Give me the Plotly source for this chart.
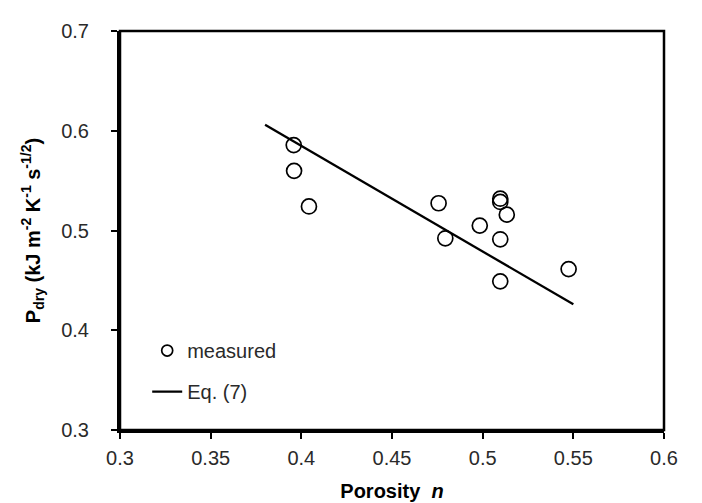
import plotly.graph_objects as go

# Measured data
porosity = [0.3958, 0.3960, 0.4042, 0.4757, 0.4794, 0.4984, 0.5097, 0.5097, 0.5133, 0.5097, 0.5097, 0.5474]
p_dry = [0.5856, 0.5598, 0.5241, 0.5273, 0.4922, 0.5049, 0.5319, 0.5286, 0.5159, 0.4912, 0.4490, 0.4613]

# Eq. (7) line
eq_n = [0.38, 0.55]
eq_p = [0.606, 0.426]

x_ticks = [0.3, 0.35, 0.4, 0.45, 0.5, 0.55, 0.6]
x_tick_labels = ["0.3", "0.35", "0.4", "0.45", "0.5", "0.55", "0.6"]
y_ticks = [0.3, 0.4, 0.5, 0.6, 0.7]
y_tick_labels = ["0.3", "0.4", "0.5", "0.6", "0.7"]

FONT = "Arial, Liberation Sans, sans-serif"
TXT = "#2a2a2a"

fig = go.Figure()
fig.add_trace(go.Scatter(
    x=porosity, y=p_dry, mode="markers", name="measured", showlegend=False,
    marker=dict(symbol="circle-open", size=15, color="black", line=dict(width=1.7, color="black")),
))
# legend entry for measured (smaller symbol, as in the reference)
fig.add_trace(go.Scatter(
    x=[None], y=[None], mode="markers", name="measured", legendgroup="a",
    marker=dict(symbol="circle-open", size=11, color="black", line=dict(width=1.7, color="black")),
))
fig.add_trace(go.Scatter(
    x=eq_n, y=eq_p, mode="lines", name="Eq. (7)", legendgroup="b",
    line=dict(color="black", width=2.3),
))

# frame (top/right)
fig.add_shape(type="rect", xref="paper", yref="paper", x0=0, y0=0, x1=1, y1=1,
              line=dict(color="black", width=2.5), layer="above")

fig.update_layout(
    width=702, height=503,
    margin=dict(l=112, r=46, t=17, b=76),
    paper_bgcolor="white", plot_bgcolor="white",
    font=dict(family=FONT, size=20, color=TXT),
    showlegend=True,
    legend=dict(x=0.05, y=0.248, xanchor="left", yanchor="top",
                bgcolor="rgba(0,0,0,0)", font=dict(size=20, color=TXT),
                traceorder="grouped", tracegroupgap=12, itemwidth=30),
    xaxis=dict(
        range=[0.3, 0.6], tickmode="array", tickvals=x_ticks, ticktext=x_tick_labels,
        showgrid=False, zeroline=False, showline=True, linecolor="black", linewidth=3,
        ticks="outside", ticklen=6, tickwidth=2, tickcolor="black",
        tickfont=dict(size=20, color=TXT), ticklabelstandoff=2,
        title=dict(text="<b>Porosity  <i>n</i></b>", font=dict(size=20, color="black"), standoff=16),
    ),
    yaxis=dict(
        range=[0.3, 0.7], tickmode="array", tickvals=y_ticks, ticktext=y_tick_labels,
        showgrid=False, zeroline=False, showline=True, linecolor="black", linewidth=3,
        ticks="outside", ticklen=6, tickwidth=2, tickcolor="black",
        tickfont=dict(size=20, color=TXT), ticklabelstandoff=18,
        title=dict(text="<b>P<sub>dry</sub> (kJ m<sup>-2</sup> K<sup>-1</sup> s<sup>-1/2</sup>)</b>",
                   font=dict(size=20, color="black"), standoff=16),
    ),
)

fig.write_html("out.html")
